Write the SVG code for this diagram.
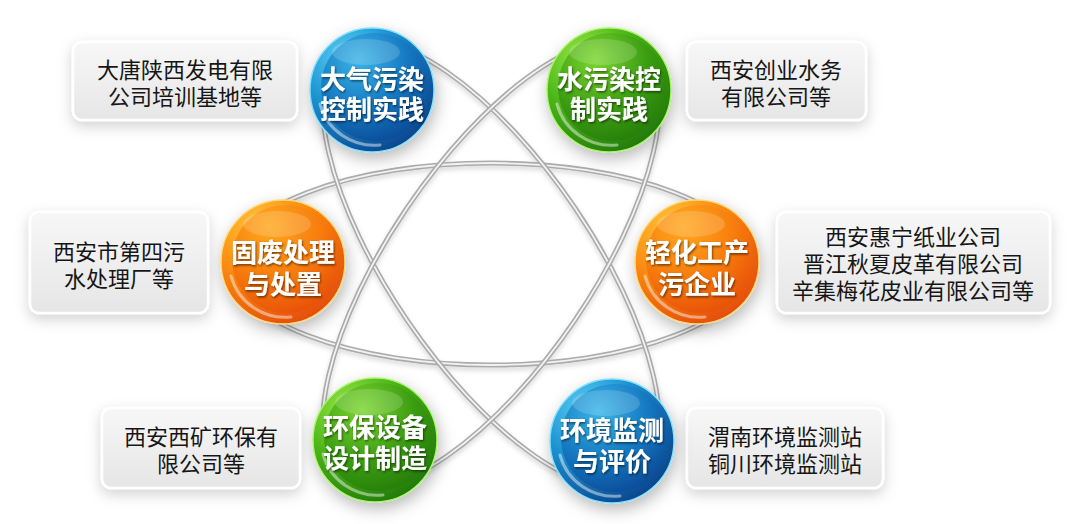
<svg xmlns="http://www.w3.org/2000/svg" width="1080" height="524" viewBox="0 0 1080 524">
<defs>
  <style>
    .ring{fill:none;stroke:#ababab;stroke-width:5}
    .ringIn{fill:none;stroke:#f2f2f2;stroke-width:1.8}
    .box{fill:url(#boxFill);stroke:#ffffff;stroke-width:2.5}
    .boxTxt{font-family:"Noto Sans CJK SC","Noto Sans CJK TC",sans-serif;font-size:22px;fill:#161616;text-anchor:middle}
    .ballTxt{font-family:"Noto Sans CJK SC","Noto Sans CJK TC",sans-serif;font-size:26px;font-weight:700;fill:#ffffff;text-anchor:middle}
    .hl{fill:none;stroke:#ffffff;stroke-opacity:0.45;stroke-width:3;stroke-linecap:round}
    .gloss{fill:#ffffff;opacity:0.16}
  </style>
  <filter id="boxShadow" x="-20%" y="-30%" width="140%" height="170%">
    <feDropShadow dx="0" dy="5" stdDeviation="7" flood-color="#000" flood-opacity="0.18"/>
  </filter>
  <filter id="ballShadow" x="-40%" y="-40%" width="180%" height="180%">
    <feDropShadow dx="2" dy="6" stdDeviation="8" flood-color="#000" flood-opacity="0.28"/>
  </filter>
  <filter id="ringShadow" x="-10%" y="-10%" width="120%" height="120%">
    <feDropShadow dx="0" dy="3" stdDeviation="2.5" flood-color="#000" flood-opacity="0.15"/>
  </filter>
  <filter id="txtShadow" x="-10%" y="-30%" width="120%" height="160%">
    <feDropShadow dx="1" dy="1.5" stdDeviation="0.8" flood-color="#000" flood-opacity="0.55"/>
  </filter>
  <linearGradient id="boxFill" x1="0" y1="0" x2="0" y2="1">
    <stop offset="0" stop-color="#f7f7f7"/>
    <stop offset="1" stop-color="#e6e6e6"/>
  </linearGradient>
  <radialGradient id="blueOuter" cx="0.3" cy="0.25" r="0.85">
    <stop offset="0" stop-color="#5fd0f5"/>
    <stop offset="0.45" stop-color="#1e95d2"/>
    <stop offset="1" stop-color="#0a3f88"/>
  </radialGradient>
  <radialGradient id="blueInner" cx="0.35" cy="0.25" r="0.85">
    <stop offset="0" stop-color="#3ab5e8"/>
    <stop offset="0.55" stop-color="#1477c0"/>
    <stop offset="1" stop-color="#0a4592"/>
  </radialGradient>
  <radialGradient id="greenOuter" cx="0.3" cy="0.25" r="0.85">
    <stop offset="0" stop-color="#9be84a"/>
    <stop offset="0.45" stop-color="#4fb81a"/>
    <stop offset="1" stop-color="#1f7508"/>
  </radialGradient>
  <radialGradient id="greenInner" cx="0.35" cy="0.25" r="0.85">
    <stop offset="0" stop-color="#7cd630"/>
    <stop offset="0.55" stop-color="#3c9e12"/>
    <stop offset="1" stop-color="#237a08"/>
  </radialGradient>
  <radialGradient id="orangeOuter" cx="0.3" cy="0.2" r="0.9">
    <stop offset="0" stop-color="#ffc23a"/>
    <stop offset="0.45" stop-color="#fb8e12"/>
    <stop offset="1" stop-color="#e2470a"/>
  </radialGradient>
  <radialGradient id="orangeInner" cx="0.35" cy="0.2" r="0.9">
    <stop offset="0" stop-color="#ffa91f"/>
    <stop offset="0.55" stop-color="#f77a0c"/>
    <stop offset="1" stop-color="#e54a08"/>
  </radialGradient>
</defs>

<rect width="1080" height="524" fill="#ffffff"/>

<g id="connectors" transform="translate(491,264)" filter="url(#ringShadow)">
  <ellipse class="ring" rx="260" ry="101"/>
  <ellipse class="ringIn" rx="260" ry="101"/>
  <ellipse class="ring" rx="260" ry="101" transform="rotate(55.8)"/>
  <ellipse class="ringIn" rx="260" ry="101" transform="rotate(55.8)"/>
  <ellipse class="ring" rx="260" ry="101" transform="rotate(-55.8)"/>
  <ellipse class="ringIn" rx="260" ry="101" transform="rotate(-55.8)"/>
</g>

<g id="box-datang">
  <rect class="box" x="73" y="42" width="224" height="78" rx="9" filter="url(#boxShadow)"/>
  <text class="boxTxt"><tspan x="185" y="78">大唐陕西发电有限</tspan><tspan x="185" y="105">公司培训基地等</tspan></text>
</g>
<g id="box-chuangye">
  <rect class="box" x="687" y="42" width="179" height="78" rx="9" filter="url(#boxShadow)"/>
  <text class="boxTxt"><tspan x="776" y="78">西安创业水务</tspan><tspan x="776" y="105">有限公司等</tspan></text>
</g>
<g id="box-siwu">
  <rect class="box" x="30" y="212" width="178" height="101" rx="9" filter="url(#boxShadow)"/>
  <text class="boxTxt"><tspan x="119" y="260">西安市第四污</tspan><tspan x="119" y="287">水处理厂等</tspan></text>
</g>
<g id="box-huining">
  <rect class="box" x="777" y="212" width="273" height="101" rx="9" filter="url(#boxShadow)"/>
  <text class="boxTxt"><tspan x="913" y="245">西安惠宁纸业公司</tspan><tspan x="913" y="272">晋江秋夏皮革有限公司</tspan><tspan x="913" y="299">辛集梅花皮业有限公司等</tspan></text>
</g>
<g id="box-xikuang">
  <rect class="box" x="102" y="408" width="198" height="80" rx="9" filter="url(#boxShadow)"/>
  <text class="boxTxt"><tspan x="201" y="445">西安西矿环保有</tspan><tspan x="201" y="472">限公司等</tspan></text>
</g>
<g id="box-jiance">
  <rect class="box" x="687" y="408" width="196" height="80" rx="9" filter="url(#boxShadow)"/>
  <text class="boxTxt"><tspan x="785" y="445">渭南环境监测站</tspan><tspan x="785" y="472">铜川环境监测站</tspan></text>
</g>

<g id="node-daqi" transform="translate(372,90)">
  <circle r="62" fill="url(#blueOuter)" stroke="#7fe0ff" stroke-width="1.5" filter="url(#ballShadow)"/>
  <circle r="54" cx="3" cy="-3" fill="url(#blueInner)"/>
  <path class="hl" d="M -52 14 A 56 56 0 0 0 8 55"/>
  <ellipse class="gloss" cx="-6" cy="-38" rx="34" ry="13"/>
  <text class="ballTxt" filter="url(#txtShadow)"><tspan x="0" y="-1">大气污染</tspan><tspan x="0" y="29">控制实践</tspan></text>
</g>
<g id="node-shui" transform="translate(609,90)">
  <circle r="62" fill="url(#greenOuter)" stroke="#a8f56a" stroke-width="1.5" filter="url(#ballShadow)"/>
  <circle r="54" cx="3" cy="-3" fill="url(#greenInner)"/>
  <path class="hl" d="M -52 14 A 56 56 0 0 0 8 55"/>
  <ellipse class="gloss" cx="-6" cy="-38" rx="34" ry="13"/>
  <text class="ballTxt" filter="url(#txtShadow)"><tspan x="0" y="-1">水污染控</tspan><tspan x="0" y="29">制实践</tspan></text>
</g>
<g id="node-gufei" transform="translate(283,262)">
  <circle r="62" fill="url(#orangeOuter)" stroke="#ffd878" stroke-width="1.5" filter="url(#ballShadow)"/>
  <circle r="54" cx="3" cy="-3" fill="url(#orangeInner)"/>
  <path class="hl" d="M -52 14 A 56 56 0 0 0 8 55"/>
  <ellipse class="gloss" cx="-6" cy="-38" rx="34" ry="13"/>
  <text class="ballTxt" filter="url(#txtShadow)"><tspan x="0" y="0">固废处理</tspan><tspan x="0" y="32">与处置</tspan></text>
</g>
<g id="node-qinghua" transform="translate(697,262)">
  <circle r="62" fill="url(#orangeOuter)" stroke="#ffd878" stroke-width="1.5" filter="url(#ballShadow)"/>
  <circle r="54" cx="3" cy="-3" fill="url(#orangeInner)"/>
  <path class="hl" d="M -52 14 A 56 56 0 0 0 8 55"/>
  <ellipse class="gloss" cx="-6" cy="-38" rx="34" ry="13"/>
  <text class="ballTxt" filter="url(#txtShadow)"><tspan x="0" y="0">轻化工产</tspan><tspan x="0" y="32">污企业</tspan></text>
</g>
<g id="node-huanbao" transform="translate(375,440)">
  <circle r="62" fill="url(#greenOuter)" stroke="#a8f56a" stroke-width="1.5" filter="url(#ballShadow)"/>
  <circle r="54" cx="3" cy="-3" fill="url(#greenInner)"/>
  <path class="hl" d="M -52 14 A 56 56 0 0 0 8 55"/>
  <ellipse class="gloss" cx="-6" cy="-38" rx="34" ry="13"/>
  <text class="ballTxt" filter="url(#txtShadow)"><tspan x="0" y="-3">环保设备</tspan><tspan x="0" y="28">设计制造</tspan></text>
</g>
<g id="node-jiance" transform="translate(612,441)">
  <circle r="62" fill="url(#blueOuter)" stroke="#7fe0ff" stroke-width="1.5" filter="url(#ballShadow)"/>
  <circle r="54" cx="3" cy="-3" fill="url(#blueInner)"/>
  <path class="hl" d="M -52 14 A 56 56 0 0 0 8 55"/>
  <ellipse class="gloss" cx="-6" cy="-38" rx="34" ry="13"/>
  <text class="ballTxt" filter="url(#txtShadow)"><tspan x="0" y="-1">环境监测</tspan><tspan x="0" y="30">与评价</tspan></text>
</g>
</svg>
